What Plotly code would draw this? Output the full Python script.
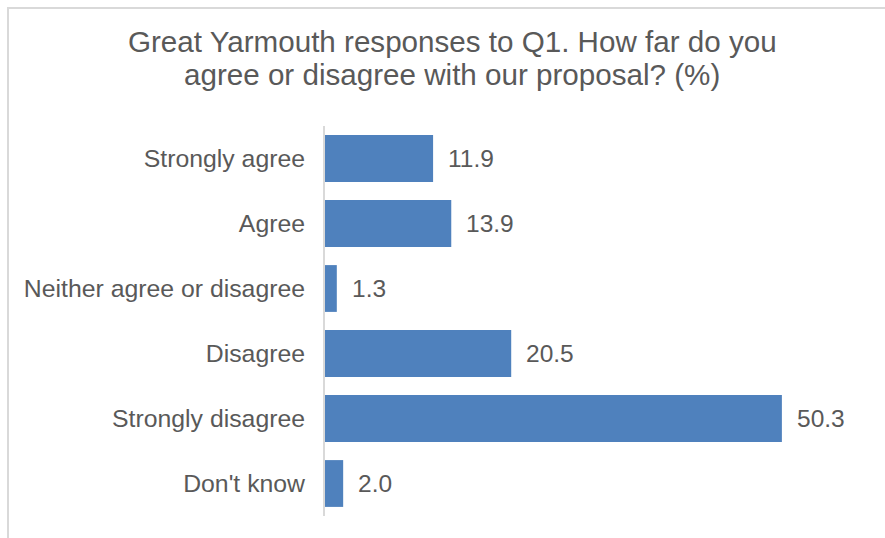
import plotly.graph_objects as go

# Survey answers and their shares (%)
categories = [
    "Strongly agree",
    "Agree",
    "Neither agree or disagree",
    "Disagree",
    "Strongly disagree",
    "Don't know",
]
percentages = [11.9, 13.9, 1.3, 20.5, 50.3, 2.0]

title_lines = [
    "Great Yarmouth responses to Q1. How far do you",
    "agree or disagree with our proposal? (%)",
]

W, H = 885, 538
L, R, T, B = 325, 15, 126, 22
plot_w = W - L - R
plot_h = H - T - B

text_color = "#595959"
bar_color = "#4F81BD"
font_family = "Liberation Sans, Arial, sans-serif"

fig = go.Figure(
    go.Bar(
        x=percentages,
        y=categories,
        orientation="h",
        marker=dict(color=bar_color, line=dict(width=0)),
        hoverinfo="skip",
    )
)

# value labels to the right of each bar
for cat, val in zip(categories, percentages):
    fig.add_annotation(
        x=val, y=cat, xref="x", yref="y",
        text=f"{val:.1f}", showarrow=False,
        xanchor="left", yanchor="middle", xshift=13,
        font=dict(size=24.5, color=text_color, family=font_family),
    )

# chart title, two lines
fig.add_annotation(
    x=(452 - L) / plot_w, y=(H - B - 52) / plot_h,
    xref="paper", yref="paper", text=title_lines[0], showarrow=False,
    xanchor="center", yanchor="bottom", yshift=-8,
    font=dict(size=29.6, color=text_color, family=font_family),
)
fig.add_annotation(
    x=(452 - L) / plot_w, y=(H - B - 85) / plot_h,
    xref="paper", yref="paper", text=title_lines[1], showarrow=False,
    xanchor="center", yanchor="bottom", yshift=-8,
    font=dict(size=29.6, color=text_color, family=font_family),
)

# outer chart frame
fig.add_shape(
    type="rect", xref="paper", yref="paper",
    x0=(8 - L) / plot_w, x1=(W + 20 - L) / plot_w,
    y0=(H - B - (H + 20)) / plot_h, y1=(H - B - 8) / plot_h,
    line=dict(color="#D9D9D9", width=2), fillcolor="rgba(0,0,0,0)",
    layer="below",
)

fig.update_layout(
    width=W, height=H,
    margin=dict(l=L, r=R, t=T, b=B, pad=0),
    paper_bgcolor="white", plot_bgcolor="white",
    bargap=0.28,
    showlegend=False,
    font=dict(family=font_family, color=text_color),
    xaxis=dict(
        range=[0, 60], visible=False, showgrid=False, zeroline=False,
    ),
    yaxis=dict(
        autorange="reversed",
        showline=True, linecolor="#D9D9D9", linewidth=2,
        showgrid=False, zeroline=False, ticks="",
        ticklabelstandoff=13,
        tickfont=dict(size=24.8, color=text_color, family=font_family),
    ),
)

fig.write_html("out.html")
